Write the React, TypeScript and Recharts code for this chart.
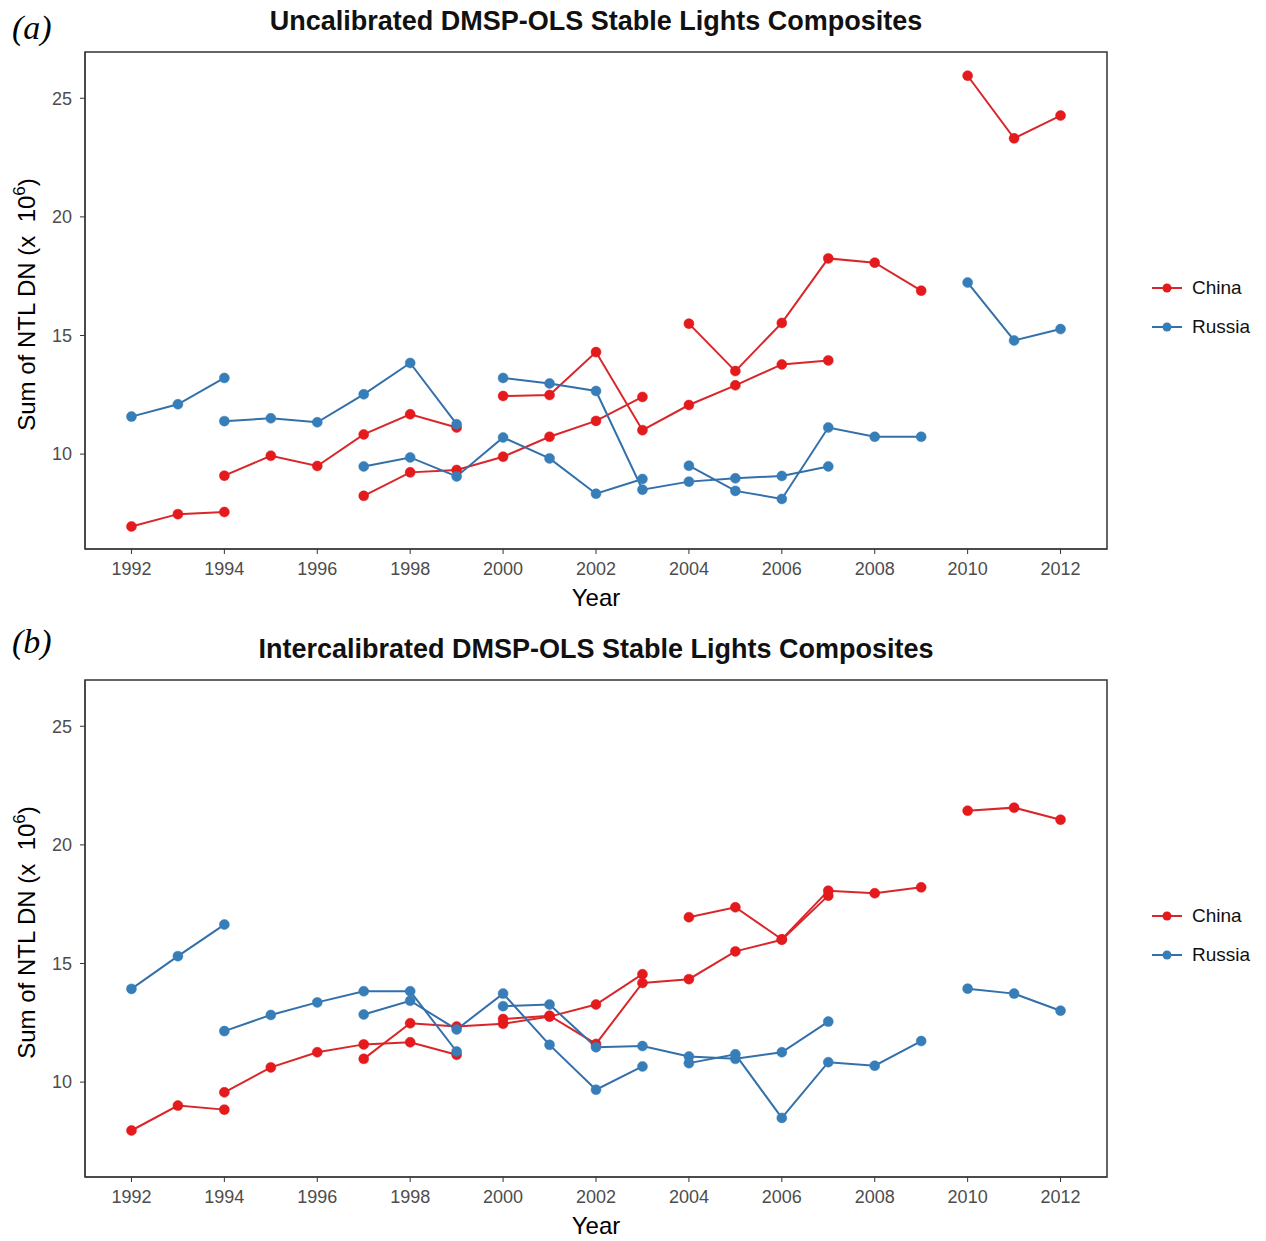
import React from "react";
import { Line, LineChart, ReferenceArea, XAxis, YAxis } from "recharts";

// years covered by each DMSP satellite: F10, F12, F14, F15, F16, F18
const SAT_YEARS = [
  [1992, 1993, 1994],
  [1994, 1995, 1996, 1997, 1998, 1999],
  [1997, 1998, 1999, 2000, 2001, 2002, 2003],
  [2000, 2001, 2002, 2003, 2004, 2005, 2006, 2007],
  [2004, 2005, 2006, 2007, 2008, 2009],
  [2010, 2011, 2012],
];

// sum of NTL DN (x 10^6), one row per satellite
const uncalChina = [
  [6.95, 7.47, 7.56],
  [9.09, 9.93, 9.5, 10.83, 11.68, 11.12],
  [8.24, 9.23, 9.33, 9.89, 10.73, 11.4, 12.41],
  [12.45, 12.49, 14.3, 11.01, 12.07, 12.9, 13.78, 13.95],
  [15.5, 13.5, 15.53, 18.25, 18.07, 16.89],
  [25.95, 23.31, 24.27],
];
const uncalRussia = [
  [11.58, 12.1, 13.21],
  [11.39, 11.51, 11.34, 12.52, 13.84, 11.26],
  [9.48, 9.86, 9.06, 10.7, 9.82, 8.33, 8.95],
  [13.21, 12.98, 12.66, 8.5, 8.84, 8.98, 9.08, 9.48],
  [9.51, 8.45, 8.11, 11.12, 10.73, 10.73],
  [17.23, 14.79, 15.27],
];
const calChina = [
  [7.96, 9.01, 8.84],
  [9.57, 10.62, 11.26, 11.59, 11.68, 11.15],
  [10.98, 12.48, 12.34, 12.46, 12.76, 13.27, 14.55],
  [12.66, 12.8, 11.61, 14.18, 14.34, 15.51, 16.0, 17.86],
  [16.95, 17.37, 16.02, 18.07, 17.96, 18.21],
  [21.44, 21.57, 21.06],
];
const calRussia = [
  [13.93, 15.31, 16.64],
  [12.15, 12.83, 13.36, 13.83, 13.83, 11.29],
  [12.85, 13.43, 12.22, 13.73, 11.57, 9.68, 10.66],
  [13.2, 13.27, 11.47, 11.52, 11.08, 10.98, 11.26, 12.55],
  [10.8, 11.17, 8.49, 10.84, 10.69, 11.73],
  [13.94, 13.73, 13.01],
];

const YEAR_TICKS = [1992, 1994, 1996, 1998, 2000, 2002, 2004, 2006, 2008, 2010, 2012];
const VALUE_TICKS = [10, 15, 20, 25];
const COUNTRIES = ["China", "Russia"];

const FONT = '"Liberation Sans", Arial, Helvetica, sans-serif';
const DOT = { China: "#E41A1C", Russia: "#377EB8" };
const LINE = { China: "#D9262B", Russia: "#3370AA" };
const X_DOMAIN = [1991, 2013];
const Y_DOMAIN = [6.0, 26.95];

function toSegments(rows: number[][]) {
  return rows.map((vals, i) => vals.map((v, j) => ({ year: SAT_YEARS[i][j], value: v })));
}

function YTitle(props: any) {
  const vb = props.viewBox;
  const cy = vb.y + vb.height / 2 + 4;
  return (
    <text
      x={35}
      y={cy}
      transform={`rotate(-90, 35, ${cy})`}
      textAnchor="middle"
      fontFamily={FONT}
      fontSize={24}
      fill="#000"
      style={{ whiteSpace: "pre" }}
    >
      {"Sum of NTL DN (x \u00a010"}
      <tspan dy={-10} fontSize={17}>6</tspan>
      <tspan dy={10}>)</tspan>
    </text>
  );
}

function XTitle(props: any) {
  const vb = props.viewBox;
  return (
    <text x={vb.x + vb.width / 2} y={vb.y + 57} textAnchor="middle" fontFamily={FONT} fontSize={24} fill="#000">
      Year
    </text>
  );
}

function Panel({ top, tag, tagTop, title, china, russia }: any) {
  const series = [
    { name: "China", segs: toSegments(china) },
    { name: "Russia", segs: toSegments(russia) },
  ];
  return (
    <div style={{ position: "absolute", left: 0, top, width: 1266, height: 612 }}>
      <div
        style={{
          position: "absolute",
          left: 12,
          top: tagTop,
          fontFamily: '"Liberation Serif", "Times New Roman", serif',
          fontStyle: "italic",
          fontSize: 34,
          lineHeight: "34px",
        }}
      >
        {tag}
      </div>
      <div
        style={{
          position: "absolute",
          left: 85,
          width: 1022,
          top: 8,
          textAlign: "center",
          fontFamily: FONT,
          fontWeight: "bold",
          fontSize: 27,
          lineHeight: "27px",
          color: "#111",
        }}
      >
        {title}
      </div>
      <LineChart width={1266} height={612} margin={{ top: 52, right: 159, bottom: 13, left: 0 }}>
        <XAxis
          type="number"
          dataKey="year"
          domain={X_DOMAIN}
          ticks={YEAR_TICKS}
          allowDataOverflow
          height={50}
          tickSize={5}
          tickMargin={8}
          stroke="#333"
          tick={{ fill: "#4d4d4d", fontSize: 18, fontFamily: FONT }}
          label={<XTitle />}
        />
        <YAxis
          type="number"
          domain={Y_DOMAIN}
          ticks={VALUE_TICKS}
          allowDataOverflow
          width={85}
          tickSize={5}
          tickMargin={8}
          stroke="#333"
          tick={{ fill: "#4d4d4d", fontSize: 18, fontFamily: FONT }}
          label={<YTitle />}
        />
        <ReferenceArea
          x1={X_DOMAIN[0]}
          x2={X_DOMAIN[1]}
          y1={Y_DOMAIN[0]}
          y2={Y_DOMAIN[1]}
          fill="none"
          stroke="#333"
          strokeWidth={1.5}
          fillOpacity={0}
        />
        {series.map((s) =>
          s.segs.map((seg, i) => (
            <Line
              key={`${s.name}-${i}`}
              data={seg}
              dataKey="value"
              type="linear"
              stroke={LINE[s.name as "China"]}
              strokeWidth={2}
              dot={{ r: 5, fill: DOT[s.name as "China"], stroke: DOT[s.name as "China"], strokeWidth: 0.5 }}
              activeDot={false}
              legendType="none"
              isAnimationActive={false}
            />
          ))
        )}
      </LineChart>
      {COUNTRIES.map((c, i) => (
        <div
          key={c}
          style={{
            position: "absolute",
            left: 1151,
            top: 276 + i * 39,
            height: 24,
            display: "flex",
            alignItems: "center",
            fontFamily: FONT,
            fontSize: 19,
            color: "#111",
          }}
        >
          <svg width={32} height={12} style={{ marginRight: 9 }}>
            <line x1={1} y1={6} x2={31} y2={6} stroke={LINE[c as "China"]} strokeWidth={2} />
            <circle cx={16} cy={6} r={4.5} fill={DOT[c as "China"]} />
          </svg>
          <span>{c}</span>
        </div>
      ))}
    </div>
  );
}

export default function App() {
  return (
    <div style={{ position: "absolute", left: 0, top: 0, width: 1266, height: 1241, overflow: "hidden", background: "#fff" }}>
      <Panel
        top={0}
        tag="(a)"
        tagTop={11}
        title="Uncalibrated DMSP-OLS Stable Lights Composites"
        china={uncalChina}
        russia={uncalRussia}
      />
      <Panel
        top={628}
        tag="(b)"
        tagTop={-3}
        title="Intercalibrated DMSP-OLS Stable Lights Composites"
        china={calChina}
        russia={calRussia}
      />
    </div>
  );
}
